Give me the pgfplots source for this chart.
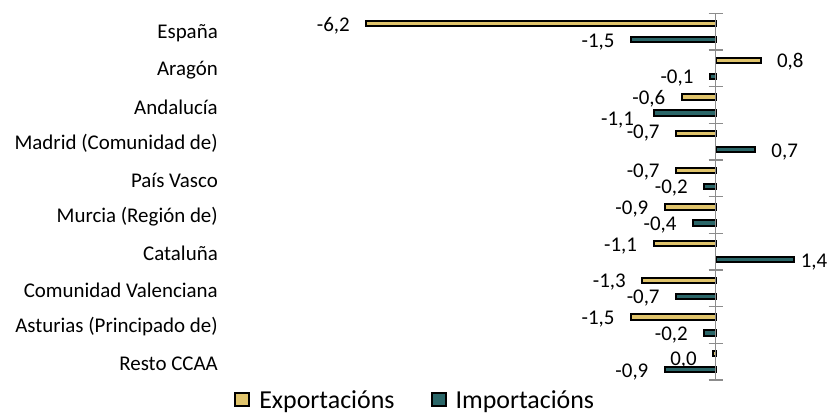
\documentclass[border=0pt]{standalone}
\usepackage{pgfplots}
\pgfplotsset{compat=1.18}
\usepackage{fontspec}
\setmainfont{Carlito}
\definecolor{expo}{HTML}{E0C46C}
\definecolor{impo}{HTML}{2A6668}
\definecolor{axgray}{HTML}{8C8C8C}
\begin{document}
\begin{tikzpicture}
\begin{axis}[
  name=ax,
  scale only axis,
  width=570bp, height=366.7bp,
  xmin=-8.62, xmax=1.50,
  ymin=-0.5, ymax=9.5,
  y dir=reverse,
  xbar, bar width=5.5bp,
  axis line style={draw=none},
  xtick=\empty,
  ytick={0,...,9},
  yticklabels={España,Aragón,Andalucía,Madrid (Comunidad de),País Vasco,Murcia (Región de),Cataluña,Comunidad Valenciana,Asturias (Principado de),Resto CCAA},
  major tick length=0pt,
  yticklabel style={font=\fontsize{21}{24}\selectfont, inner xsep=0pt, xshift=-12bp, yshift=-2bp},
  clip=false,
  point meta=explicit symbolic,
  nodes near coords,
  visualization depends on={rawx \as \rawx},
  nodes near coords style={font=\fontsize{21}{24}\selectfont, text=black, fill=none, draw=none,
    text height=13.3bp, text depth=0pt, yshift=-1bp,
    inner xsep=15.5bp, inner ysep=0pt, anchor={\ifdim\rawx pt<0pt east\else west\fi}},
  legend columns=2,
  legend style={draw=none, fill=none, at={(0.325,-0.0545)}, anchor=center,
    font=\fontsize{26}{28}\selectfont,
    /tikz/every odd column/.append style={column sep=7bp},
    /tikz/every even column/.append style={column sep=34bp}},
  legend image code/.code={\draw[#1, line width=2bp] (0bp,-6.5bp) rectangle (14bp,6.5bp);},
]
% Exportacions
\addplot[fill=expo, draw=black, line width=2bp, bar shift=8bp] coordinates {
  (-6.2,0) [-6,2]
  (0.8,1) [0,8]
  (-0.6,2) [-0,6]
  (-0.7,3) [\raise3bp\hbox{-0,7}]
  (-0.7,4) [-0,7]
  (-0.9,5) [-0,9]
  (-1.1,6) [-1,1]
  (-1.3,7) [-1,3]
  (-1.5,8) [-1,5]
  (-0.04,9) [\lower4bp\hbox{0,0}]
};
\addlegendentry{Exportacións}
% Importacions
\addplot[fill=impo, draw=black, line width=2bp, bar shift=-8bp] coordinates {
  (-1.5,0) [-1,5]
  (-0.1,1) [-0,1]
  (-1.1,2) [\lower5bp\hbox{-1,1\kern3bp}]
  (0.7,3) [0,7]
  (-0.2,4) [-0,2]
  (-0.4,5) [-0,4]
  (1.4,6) [\kern-10bp 1,4]
  (-0.7,7) [-0,7]
  (-0.2,8) [-0,2]
  (-0.9,9) [-0,9]
};
\addlegendentry{Importacións}
\draw[axgray, line width=1.8bp] (axis cs:0,-0.5) -- (axis cs:0,9.5);
\pgfplotsinvokeforeach{-0.5,0.5,...,9.5}{
  \draw[axgray, line width=1.5bp] ([xshift=-7bp]axis cs:0,#1) -- ([xshift=7bp]axis cs:0,#1);
}
\end{axis}
\pgfresetboundingbox
\path (ax.south west) ++(-230bp,-35bp) rectangle ++(828bp,415bp);
\end{tikzpicture}
\end{document}
